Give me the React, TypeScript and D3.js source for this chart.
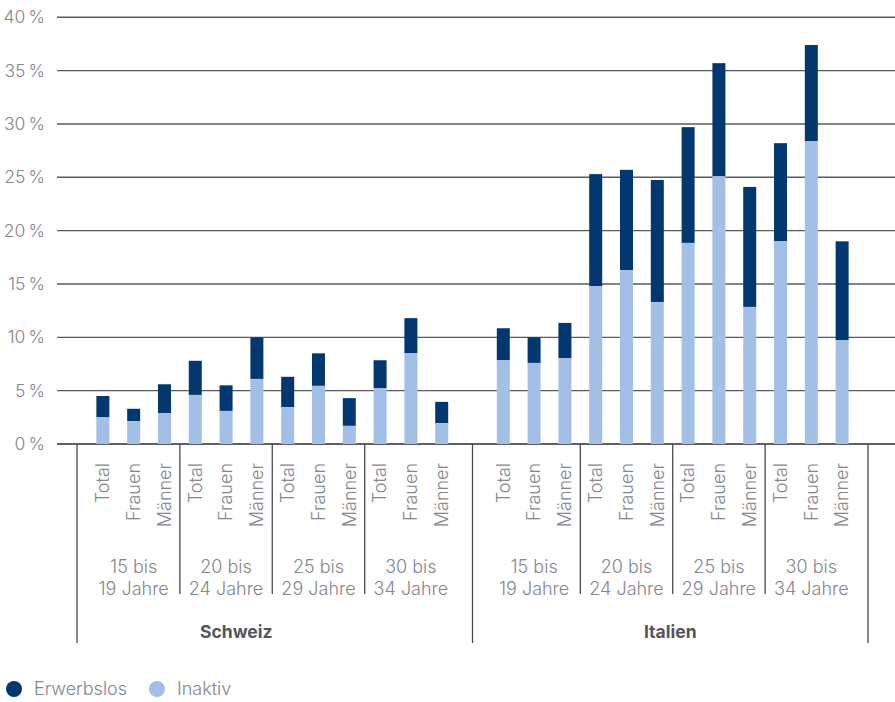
import React from "react";
import * as d3 from "d3";

// Anteil junger Erwachsener, die erwerbslos oder nicht erwerbstätig sind (in %)
const countries = ["Schweiz", "Italien"];
const ageGroups = [
  ["15 bis", "19 Jahre"],
  ["20 bis", "24 Jahre"],
  ["25 bis", "29 Jahre"],
  ["30 bis", "34 Jahre"],
];
const sexes = ["Total", "Frauen", "Männer"];

// values per country: age group × (Total, Frauen, Männer)
const inaktivSchweiz = [2.5, 2.15, 2.9, 4.6, 3.1, 6.1, 3.45, 5.45, 1.7, 5.25, 8.5, 1.95];
const totalSchweiz = [4.5, 3.3, 5.6, 7.8, 5.5, 10.0, 6.3, 8.5, 4.3, 7.85, 11.8, 3.95];
const inaktivItalien = [7.85, 7.6, 8.05, 14.8, 16.3, 13.3, 18.85, 25.1, 12.85, 19.0, 28.4, 9.75];
const totalItalien = [10.85, 10.0, 11.35, 25.3, 25.7, 24.75, 29.7, 35.7, 24.1, 28.2, 37.4, 19.0];

const yTicks = [0, 5, 10, 15, 20, 25, 30, 35, 40];
const legendItems = ["Erwerbslos", "Inaktiv"];

const DARK = "#02386f";
const LIGHT = "#a3bfe6";
const TEXT = "#86868d";
const FONT = "Inter, 'Noto Sans', sans-serif";

type Bar = {
  key: string;
  sex: string;
  inaktiv: number;
  total: number;
};

const bars: Bar[][] = [
  totalSchweiz.map((t, i) => ({
    key: `CH-${i}`,
    sex: sexes[i % 3],
    inaktiv: inaktivSchweiz[i],
    total: t,
  })),
  totalItalien.map((t, i) => ({
    key: `IT-${i}`,
    sex: sexes[i % 3],
    inaktiv: inaktivItalien[i],
    total: t,
  })),
];

export default function App() {
  const width = 895;
  const height = 702;
  const x0 = 77;
  const x1 = 868;
  const y0 = 444;
  const yTop = 17.3;
  const gridLeft = 57;
  const gridRight = 895;

  // slot order: 12 Swiss bars, one empty slot, 12 Italian bars
  const slots = [...bars[0].map((b) => b.key), "gap", ...bars[1].map((b) => b.key)];
  const x = d3
    .scaleBand<string>()
    .domain(slots)
    .range([x0, x1])
    .paddingInner(0.578)
    .paddingOuter(0.629);
  const bw = x.bandwidth();
  const step = x.step();
  const cx = (k: string) => (x(k) as number) + bw / 2;

  const y = d3.scaleLinear().domain([0, 40]).range([y0, yTop]);

  const countrySeps = [x0, cx("gap"), x1];
  const countryLabelX = [(0 + cx("gap")) / 2, (cx("gap") + x1) / 2];

  return (
    <svg
      width={width}
      height={height}
      style={{ position: "absolute", left: 0, top: 0, background: "#fff" }}
      fontFamily={FONT}
    >
      {/* horizontal gridlines */}
      {yTicks.map((t) => (
        <g key={t}>
          <line
            x1={gridLeft}
            x2={gridRight}
            y1={y(t)}
            y2={y(t)}
            stroke={t === 0 ? "#2a2a30" : "#5a5a60"}
            strokeWidth={t === 0 ? 1.6 : 1.4}
          />
          <text
            x={45}
            y={y(t)}
            dy="0.35em"
            textAnchor="end"
            fontSize={17.5}
            fontWeight={300}
            fill={TEXT}
          >
            {`${t}\u202F%`}
          </text>
        </g>
      ))}

      {/* stacked bars */}
      {bars.flat().map((b) => (
        <g key={b.key}>
          <rect
            x={x(b.key)}
            y={y(b.total)}
            width={bw}
            height={y(b.inaktiv) - y(b.total)}
            fill={DARK}
          />
          <rect
            x={x(b.key)}
            y={y(b.inaktiv)}
            width={bw}
            height={y0 - y(b.inaktiv)}
            fill={LIGHT}
          />
        </g>
      ))}

      {/* category axis: sex labels */}
      {bars.flat().map((b) => (
        <text
          key={`l-${b.key}`}
          transform={`translate(${cx(b.key)},${463}) rotate(-90)`}
          textAnchor="end"
          dy="0.35em"
          fontSize={18}
          fontWeight={300}
          fill={TEXT}
        >
          {b.sex}
        </text>
      ))}

      {/* age group separators and labels */}
      {bars.map((group, ci) =>
        ageGroups.map((ag, gi) => {
          const first = group[gi * 3].key;
          const mid = cx(group[gi * 3 + 1].key);
          return (
            <g key={`ag-${ci}-${gi}`}>
              {gi > 0 && (
                <line
                  x1={cx(first) - step / 2}
                  x2={cx(first) - step / 2}
                  y1={y0}
                  y2={594}
                  stroke="#4a4a50"
                  strokeWidth={1.3}
                />
              )}
              <text
                x={mid}
                y={567}
                dy="0.35em"
                textAnchor="middle"
                fontSize={18}
                fontWeight={300}
                fill={TEXT}
              >
                {ag[0]}
              </text>
              <text
                x={mid}
                y={589}
                dy="0.35em"
                textAnchor="middle"
                fontSize={18}
                fontWeight={300}
                fill={TEXT}
              >
                {ag[1]}
              </text>
            </g>
          );
        })
      )}

      {/* country separators */}
      {countrySeps.map((sx, i) => (
        <line
          key={`cs-${i}`}
          x1={sx}
          x2={sx}
          y1={y0}
          y2={643}
          stroke="#4a4a50"
          strokeWidth={1.3}
        />
      ))}
      {countries.map((c, i) => (
        <text
          key={c}
          x={countryLabelX[i]}
          y={632}
          dy="0.35em"
          textAnchor="middle"
          fontSize={17.5}
          fontWeight={700}
          fill="#55555c"
        >
          {c}
        </text>
      ))}

      {/* legend */}
      {legendItems.map((item, i) => {
        const lx = [14, 157][i];
        return (
          <g key={item}>
            <circle cx={lx} cy={689} r={8} fill={i === 0 ? DARK : LIGHT} />
            <text
              x={lx + 20}
              y={689}
              dy="0.35em"
              fontSize={18}
              fontWeight={300}
              fill={TEXT}
            >
              {item}
            </text>
          </g>
        );
      })}
    </svg>
  );
}
